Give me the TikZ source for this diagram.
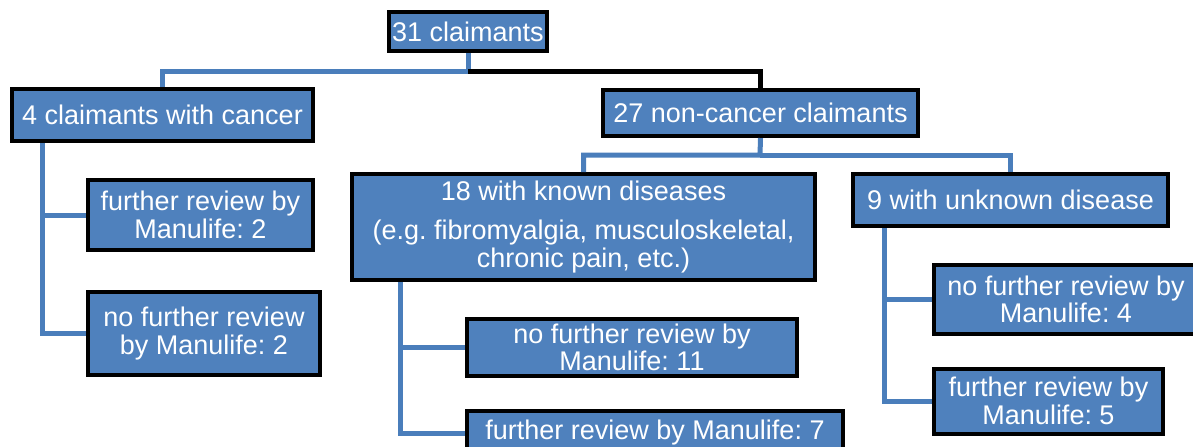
\documentclass[tikz,border=0pt]{standalone}
\usepackage{fontspec}
\setmainfont{Liberation Sans}
\usetikzlibrary{positioning}
\definecolor{boxblue}{HTML}{4F81BD}
\definecolor{linkblue}{HTML}{4A7EBB}
\frenchspacing

\begin{document}
\begin{tikzpicture}[x=0.5pt,y=-0.5pt,
        box/.style={rectangle,draw=black,line width=2pt,fill=boxblue,text=white,
                    inner sep=0pt,align=center,font=\fontsize{13.5}{13.8}\selectfont},
        link/.style={draw=linkblue,line width=2.5pt},
        blacklink/.style={draw=black,line width=2.5pt}]
            \useasboundingbox (0,0) rectangle (1193,446);
            % top levels
            \node [box,minimum width=79pt,minimum height=19.5pt] (root) at (468,31.5) {31 claimants};
            \node [box,minimum width=150.5pt,minimum height=26pt] (cancer) at (162.5,115) {4 claimants with cancer};
            \node [box,minimum width=157.5pt,minimum height=23pt] (noncancer) at (760.5,113) {27 non-cancer claimants};
            \node [box,minimum width=231.5pt,minimum height=53pt] (known) at (583.5,227) {18 with known diseases\\[6pt] (e.g. fibromyalgia, musculoskeletal,\\ chronic pain, etc.)};
            \node [box,minimum width=157.5pt,minimum height=26pt] (unknown) at (1010.5,200) {9 with unknown disease};

            % leaves
            \node [box,minimum width=112.5pt,minimum height=35pt] (cfurther) at (200.5,215) {further review by\\ Manulife: 2};
            \node [box,minimum width=116pt,minimum height=41.5pt] (cnofurther) at (204,333.5) {no further review\\ by Manulife: 2};
            \node [box,minimum width=165pt,minimum height=28.5pt] (knofurther) at (632,347.5) {no further review by\\ Manulife: 11};
            \node [box,minimum width=188pt,minimum height=22pt] (kfurther) at (655,433) {further review by Manulife: 7};
            \node [box,minimum width=132pt,minimum height=34.5pt] (unofurther) at (1066,299.5) {no further review by\\ Manulife: 4};
            \node [box,minimum width=114.5pt,minimum height=32.5pt] (ufurther) at (1048.5,401) {further review by\\ Manulife: 5};

            \coordinate (rootbar) at (468,71);
            \coordinate (ncbar) at (760,155);
            \coordinate (ctrunk) at (42,143);
            \coordinate (ktrunk) at (400,282);
            \coordinate (utrunk) at (884,228);

            \draw [link] (root.south) -- (rootbar) -| (cancer.north);
            \draw [blacklink] (rootbar) -| (noncancer.north);
            \draw [link] (noncancer.south) -- (ncbar) -| (known.north);
            \draw [link] (ncbar) -| (unknown.north);
            \draw [link] (ctrunk) |- (cfurther.west);
            \draw [link] (ctrunk) |- (cnofurther.west);
            \draw [link] (ktrunk) |- (knofurther.west);
            \draw [link] (ktrunk) |- (kfurther.west);
            \draw [link] (utrunk) |- (unofurther.west);
            \draw [link] (utrunk) |- (ufurther.west);
        \end{tikzpicture}
\end{document}
